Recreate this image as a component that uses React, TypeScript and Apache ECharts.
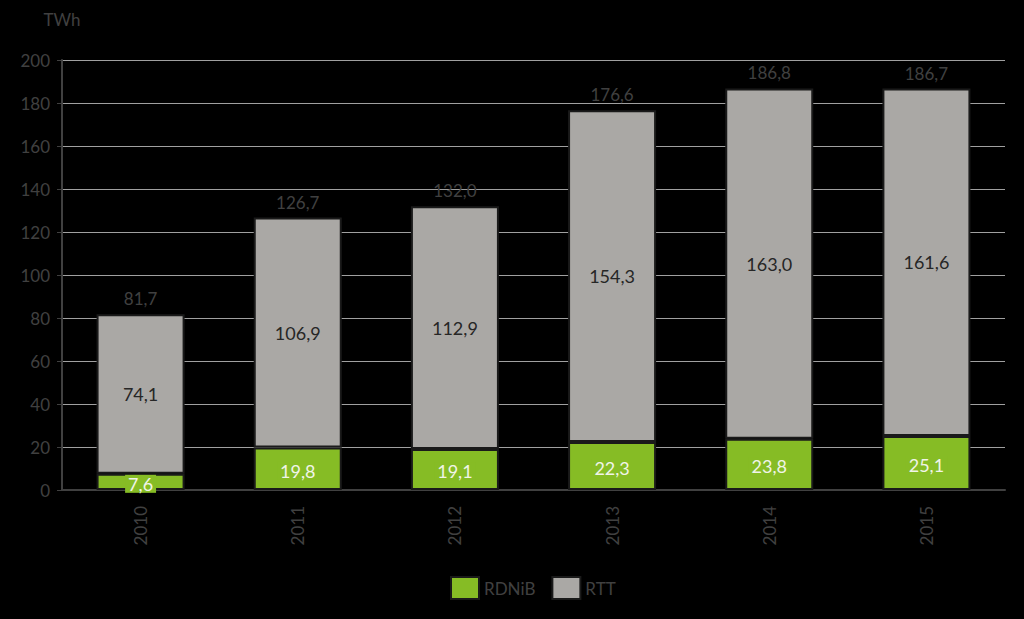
import React, { useEffect, useRef } from "react";
import * as echarts from "echarts";

const years = ["2010", "2011", "2012", "2013", "2014", "2015"];
const rdnib = [7.6, 19.8, 19.1, 22.3, 23.8, 25.1];
const rtt = [74.1, 106.9, 112.9, 154.3, 163.0, 161.6];
const totals = [81.7, 126.7, 132.0, 176.6, 186.8, 186.7];

const fmt = (v: number) => v.toFixed(1).replace(".", ",");
const FONT = "Lato";

export default function App() {
  const ref = useRef<HTMLDivElement>(null);
  useEffect(() => {
    const chart = echarts.init(ref.current!, null, { renderer: "svg" });
    chart.setOption({
      animation: false,
      backgroundColor: "#000000",
      textStyle: { fontFamily: FONT },
      grid: { left: 62, right: 19, top: 60, bottom: 129 },
      legend: {
        bottom: 14,
        left: 445,
        icon: "rect",
        itemWidth: 28,
        itemHeight: 22,
        itemGap: 16,
        textStyle: { color: "#404040", fontSize: 17, fontFamily: FONT },
        data: ["RDNiB", "RTT"],
      },
      xAxis: {
        type: "category",
        data: years,
        axisLine: { lineStyle: { color: "#404040", width: 2 } },
        axisTick: { show: false },
        axisLabel: { rotate: 90, color: "#404040", fontSize: 17, margin: 16, fontFamily: FONT },
      },
      yAxis: {
        type: "value",
        min: 0,
        max: 200,
        interval: 20,
        name: "TWh",
        nameGap: 32,
        nameTextStyle: { color: "#404040", fontSize: 17, fontFamily: FONT },
        axisLine: { show: true, lineStyle: { color: "#404040", width: 2 } },
        axisTick: { show: true, length: 5, lineStyle: { color: "#404040" } },
        axisLabel: { color: "#404040", fontSize: 17, margin: 12, fontFamily: FONT },
        splitLine: { lineStyle: { color: "#a0a0a0", width: 1 } },
      },
      series: [
        {
          name: "RDNiB",
          type: "bar",
          stack: "s",
          barWidth: "56%",
          data: rdnib,
          itemStyle: { color: "#86bc25", borderColor: "#1a1a1a", borderWidth: 2 },
          label: {
            show: true,
            position: "inside",
            offset: [0, 2],
            color: "#f0f4e8",
            fontSize: 18,
            fontFamily: FONT,
            backgroundColor: "#86bc25",
            padding: [0, 3],
            formatter: (p: any) => fmt(p.value),
          },
          z: 2,
        },
        {
          name: "RTT",
          type: "bar",
          stack: "s",
          barWidth: "56%",
          data: rtt,
          itemStyle: { color: "#aaa8a5", borderColor: "#1a1a1a", borderWidth: 2 },
          label: {
            show: true,
            position: "inside",
            color: "#262626",
            fontSize: 18,
            fontFamily: FONT,
            formatter: (p: any) => fmt(p.value),
          },
          z: 2,
        },
        {
          name: "Total",
          type: "bar",
          barWidth: "56%",
          barGap: "-100%",
          data: totals,
          itemStyle: { color: "rgba(0,0,0,0)" },
          label: {
            show: true,
            position: "top",
            distance: 7,
            color: "#404040",
            fontSize: 17,
            fontFamily: FONT,
            formatter: (p: any) => fmt(p.value),
          },
          z: 1,
          silent: true,
        },
      ],
    });
    return () => chart.dispose();
  }, []);
  return <div ref={ref} style={{ position: "fixed", left: 0, top: 0, width: 1024, height: 619 }} />;
}
